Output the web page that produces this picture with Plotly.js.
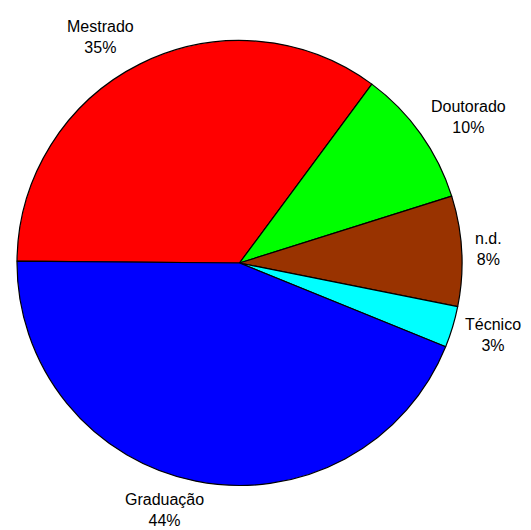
<!DOCTYPE html>
<html>
<head>
<meta charset="utf-8">
<script src="https://cdn.plot.ly/plotly-3.0.1.min.js"></script>
<style>
  html, body { margin: 0; padding: 0; background: #ffffff; }
  #chart { width: 531px; height: 530px; }
</style>
</head>
<body>
<div id="chart"></div>
<script>
// Distribuição por titulação (percentuais)
const categories = ['Mestrado', 'Doutorado', 'n.d.', 'Técnico', 'Graduação'];
const percents = [35, 10, 8, 3, 44];
const sliceColors = ['#FF0000', '#00FF00', '#993300', '#00FFFF', '#0000FF'];

const W = 531, H = 530;
const FONT = 'Liberation Sans, Arial, sans-serif';
const FONT_SIZE = 16;
const ROTATION = -89.5;            // start of the first slice, degrees clockwise from 12 o'clock
const pieDomain = { x: [17 / W, 462 / W], y: [44.5 / H, 489.5 / H] };
const LABEL_RADIUS_X = 1.06;       // where the text block touches, as multiples of the pie radius
const LABEL_RADIUS_Y = 1.04;

const trace = {
  type: 'pie',
  labels: categories,
  values: percents,
  sort: false,
  direction: 'clockwise',
  rotation: ROTATION,
  marker: { colors: sliceColors, line: { color: '#000000', width: 1.2 } },
  textinfo: 'none',
  hoverinfo: 'label+percent',
  showlegend: false,
  automargin: false,
  domain: pieDomain
};

// Outside labels: the text block sits just beyond the rim at each slice's mid-angle
const measureCtx = document.createElement('canvas').getContext('2d');
measureCtx.font = FONT_SIZE + 'px "Liberation Sans", Arial, sans-serif';

const cx = (pieDomain.x[0] + pieDomain.x[1]) / 2 * W;
const cy = (1 - (pieDomain.y[0] + pieDomain.y[1]) / 2) * H;
const radius = Math.min((pieDomain.x[1] - pieDomain.x[0]) * W, (pieDomain.y[1] - pieDomain.y[0]) * H) / 2;
const total = percents.reduce((a, b) => a + b, 0);
const clamp = v => Math.max(-1, Math.min(1, v));

const annotations = [];
let start = ROTATION;
categories.forEach((name, i) => {
  const sweep = percents[i] / total * 360;
  const mid = (start + sweep / 2) * Math.PI / 180;   // clockwise from top
  start += sweep;
  const dirX = Math.sin(mid), dirY = -Math.cos(mid); // screen direction (y down)
  const lines = [name, percents[i] + '%'];
  const halfW = Math.max(...lines.map(t => measureCtx.measureText(t).width)) / 2;
  const halfH = lines.length * FONT_SIZE * 1.3 / 2;
  const px = cx + radius * LABEL_RADIUS_X * dirX + halfW * clamp(dirX * 3.7);
  const py = cy + radius * LABEL_RADIUS_Y * dirY + halfH * dirY;
  annotations.push({
    xref: 'paper', yref: 'paper',
    x: px / W, y: 1 - py / H,
    xanchor: 'center', yanchor: 'middle',
    align: 'center',
    showarrow: false,
    text: lines.join('<br>'),
    font: { family: FONT, size: FONT_SIZE, color: '#000000' }
  });
});

const layout = {
  width: W,
  height: H,
  margin: { l: 0, r: 0, t: 0, b: 0 },
  paper_bgcolor: '#ffffff',
  plot_bgcolor: '#ffffff',
  font: { family: FONT, size: FONT_SIZE, color: '#000000' },
  showlegend: false,
  annotations: annotations
};

Plotly.newPlot('chart', [trace], layout, { displayModeBar: false, staticPlot: true });
</script>
</body>
</html>
